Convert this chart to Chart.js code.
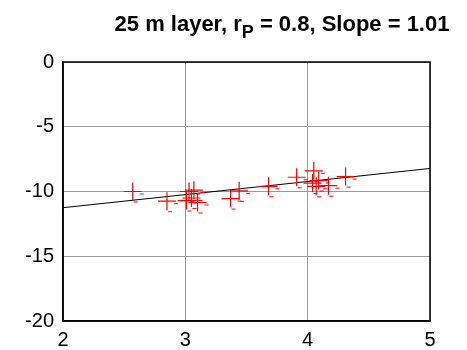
<!DOCTYPE html>
<html>
<head>
<meta charset="utf-8">
<script src="https://cdn.jsdelivr.net/npm/chart.js@4"></script>
<style>
  html, body { margin: 0; padding: 0; background: #fff; }
  #wrap { position: relative; width: 467px; height: 350px; }
  #title {
    position: absolute; left: 0; top: 11px; width: 467px; padding-left: 97px; box-sizing: border-box;
    text-align: center; font: bold 22px "Liberation Sans", Arial, sans-serif; color: #000;
    white-space: nowrap;
  }
  #title sub { font-size: 18px; vertical-align: -7px; line-height: 0; }
</style>
</head>
<body>
<div id="wrap">
  <canvas id="c" width="467" height="350"></canvas>
  <div id="title">25 m layer, r<sub>P</sub> = 0.8, Slope = 1.01</div>
</div>
<script>
// 25 m layer scatter with fit
const xVals = [2.57, 2.85, 3.01, 3.03, 3.07, 3.05, 3.10, 3.37, 3.44, 3.68, 3.91, 4.05, 4.04, 4.07, 4.09, 4.17, 4.31];
const yVals = [-10.0, -10.75, -10.7, -10.0, -9.9, -10.5, -10.85, -10.55, -9.95, -9.6, -8.9, -8.4, -9.35, -9.6, -9.15, -9.55, -8.85];
const fitX = [2, 5];
const fitY = [-11.25, -8.22];
const xTicks = [2, 3, 4, 5];
const yTicks = [0, -5, -10, -15, -20];

const points = xVals.map((x, i) => ({ x: x, y: yVals[i] }));
const fitLine = fitX.map((x, i) => ({ x: x, y: fitY[i] }));

// small caps on the error crosses + box around the axes
const extras = {
    id: 'extras',
    afterDatasetsDraw(chart) {
        const g = chart.ctx;
        const meta = chart.getDatasetMeta(0);
        g.save();
        g.strokeStyle = '#ff0000';
        g.lineWidth = 1;
        meta.data.forEach(p => {
            g.beginPath();
            g.moveTo(p.x + 7, p.y + 2.5); g.lineTo(p.x + 11, p.y + 2.5);
            g.moveTo(p.x + 1, p.y + 10.5); g.lineTo(p.x + 5, p.y + 10.5);
            g.stroke();
        });
        const a = chart.chartArea;
        g.strokeStyle = '#000';
        g.lineWidth = 1.5;
        g.strokeRect(a.left, a.top, a.right - a.left, a.bottom - a.top);
        g.restore();
    }
};

new Chart(document.getElementById('c').getContext('2d'), {
    type: 'scatter',
    data: {
        datasets: [
            {
                data: points,
                pointStyle: 'cross',
                pointRadius: 9,
                pointBorderColor: '#ff0000',
                pointBorderWidth: 1.2,
                showLine: false
            },
            {
                type: 'line',
                data: fitLine,
                borderColor: '#000',
                borderWidth: 1,
                pointRadius: 0,
                fill: false
            }
        ]
    },
    options: {
        responsive: false,
        animation: false,
        layout: { padding: { top: 62, right: 37, bottom: 0, left: 0 } },
        plugins: { legend: { display: false }, tooltip: { enabled: false }, title: { display: false } },
        scales: {
            x: {
                type: 'linear', min: 2, max: 5,
                afterBuildTicks: s => { s.ticks = xTicks.map(v => ({ value: v })); },
                afterFit: s => { s.height = 29; },
                grid: { color: '#999', lineWidth: 1, drawTicks: false },
                border: { color: '#000', width: 1.5 },
                ticks: { color: '#000', padding: 7, font: { family: 'Liberation Sans', size: 20 } }
            },
            y: {
                type: 'linear', min: -20, max: 0,
                afterBuildTicks: s => { s.ticks = yTicks.map(v => ({ value: v })); },
                afterFit: s => { s.width = 63; },
                grid: { color: '#999', lineWidth: 1, drawTicks: false },
                border: { color: '#000', width: 1.5 },
                ticks: { color: '#000', padding: 9, font: { family: 'Liberation Sans', size: 20 } }
            }
        }
    },
    plugins: [extras]
});
</script>
</body>
</html>
